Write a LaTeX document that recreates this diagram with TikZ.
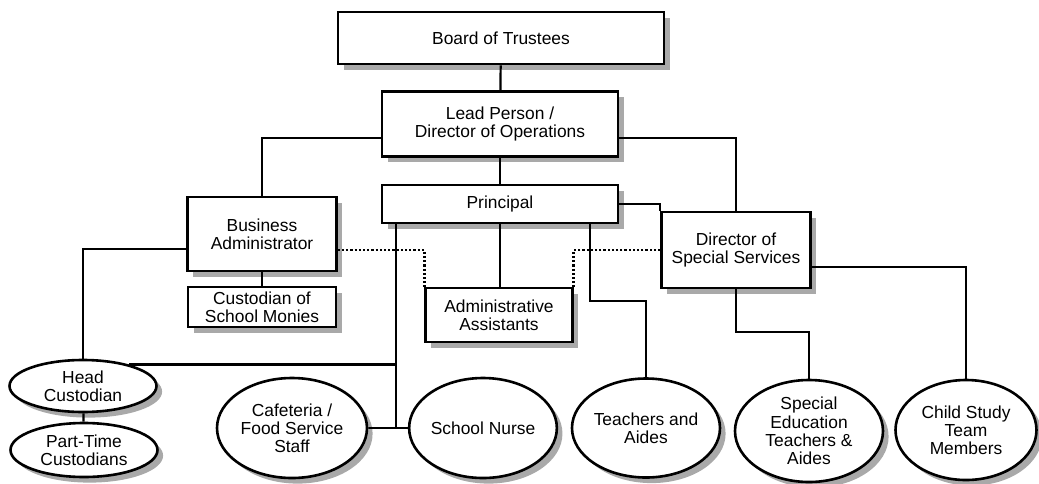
\documentclass[tikz,border=0pt]{standalone}
\usepackage{fontspec}
\setmainfont{Liberation Sans}
\usetikzlibrary{calc,shapes.geometric,shadows}

\begin{document}
\begin{tikzpicture}[x=0.5pt,y=-0.5pt,
  every node/.style={font=\fontsize{8.7}{9.1}\selectfont,align=center,inner sep=0pt},
  post/.style={draw,line width=1.3pt,fill=white,drop shadow={shadow xshift=2.8pt,shadow yshift=-2.8pt,fill=black!45,opacity=.75}},
  staff/.style={post,ellipse},
  link/.style={line width=1.1pt},
  assist/.style={line width=1.4pt,dash pattern=on 1.1pt off 1pt}]
\useasboundingbox (0,0) rectangle (1039,483);

\node[post,minimum width=163pt,minimum height=26pt](board) at (501,38) {Board of Trustees};
\node[post,minimum width=118pt,minimum height=32.5pt](lead) at (500,124) {Lead Person /\\Director of Operations};
\node[post,minimum width=118pt,minimum height=19pt](principal) at (500,204) {Principal};
\node[post,minimum width=74.5pt,minimum height=37pt](busadm) at (262,234) {Business\\Administrator};
\node[post,minimum width=74pt,minimum height=20pt](monies) at (262,307) {Custodian of\\School Monies};
\node[post,minimum width=73.5pt,minimum height=27pt](assistants) at (499,315) {Administrative\\Assistants};
\node[post,minimum width=74.5pt,minimum height=38pt](specserv) at (736,250) {Director of\\Special Services};

\node[staff,minimum width=73.5pt,minimum height=26pt](headcust) at (83,386) {Head\\Custodian};
\node[staff,minimum width=73.5pt,minimum height=27pt](parttime) at (84,450) {Part-Time\\Custodians};
\node[staff,minimum width=75pt,minimum height=50pt](cafeteria) at (292,428) {Cafeteria /\\Food Service\\Staff};
\node[staff,minimum width=73.5pt,minimum height=50pt](nurse) at (483,428) {School Nurse};
\node[staff,minimum width=74pt,minimum height=49.5pt](teachers) at (646,428) {Teachers and\\Aides};
\node[staff,minimum width=74pt,minimum height=51pt](speced) at (809,431) {Special\\Education\\Teachers \&\\Aides};
\node[staff,minimum width=70.5pt,minimum height=50pt](childstudy) at (966,430) {Child Study\\Team\\Members};

\draw[link](board)--(lead);
\draw[link](lead)--(principal);
\draw[link]($(lead.west)+(0,14)$) -| (busadm.north);
\draw[link]($(lead.east)+(0,14)$) -| (specserv.north);
\draw[link](busadm)--(monies);
\draw[link]($(busadm.west)+(0,15)$) -| (headcust.north);
\draw[link](headcust)--(parttime);
\draw[link](principal)--(principal.south |- assistants.north);
\draw[link](principal.east) -| (specserv.north west);

\coordinate (pleft) at ($(principal.south west)+(15,0)$);
\coordinate (pright) at ($(principal.south east)+(-29,0)$);
\draw[link](pleft) |- (cafeteria.east)--(nurse.west);
\draw[link](headcust.25)--(headcust.25 -| pleft);
\draw[link](pright) |- ($(teachers.north)+(0,-76)$)--(teachers.north);

\draw[link](specserv.south) |- ($(speced.north)+(0,-47)$)--(speced.north);
\draw[link]($(specserv.east)+(0,17)$) -| (childstudy.north);

\draw[assist]($(busadm.east)+(0,16)$) -| (assistants.north west);
\draw[assist](specserv.west) -| (assistants.north east);
\end{tikzpicture}
\end{document}
